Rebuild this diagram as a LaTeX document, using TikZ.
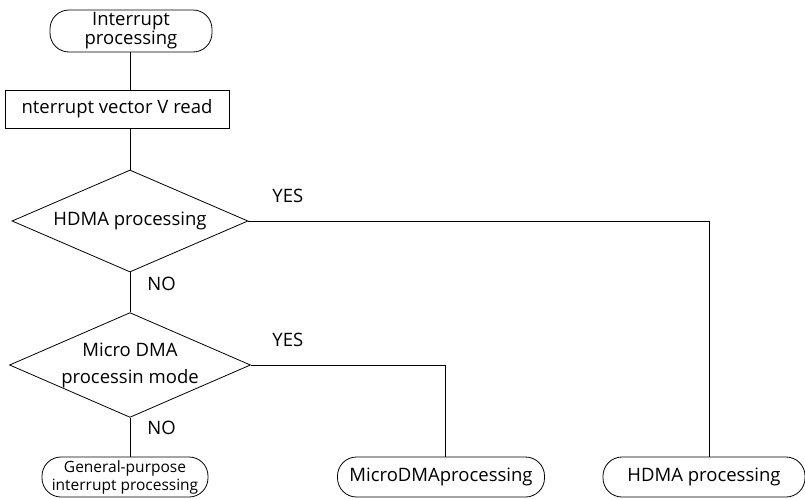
\documentclass[tikz,border=0pt]{standalone}
\usepackage{fontspec}
\setmainfont{Open Sans}
\usetikzlibrary{shapes.geometric}
\begin{document}
\begin{tikzpicture}[x=1pt,y=-1pt,line width=0.8pt,
  every node/.style={font=\fontsize{18.5}{20}\selectfont, inner sep=0pt},
  terminal/.style={draw, rounded corners=19pt, align=center},
  procbox/.style={draw, align=center},
  decision/.style={draw, diamond, aspect=2.3, align=center},
  lbl/.style={anchor=west}]
\useasboundingbox (0,0) rectangle (805,498);
\node[terminal, minimum width=162pt, minimum height=42pt,
      font=\fontsize{18.5}{18}\selectfont] (start) at (131,31) {Interrupt\\processing};
\node[procbox, minimum width=224pt, minimum height=38pt] (vread) at (117,109) {nterrupt vector V read};
\node[decision, minimum width=236pt, minimum height=102pt] (hdma) at (130,221) {HDMA processing};
\node[decision, minimum width=236pt, minimum height=104pt,
      font=\fontsize{18.5}{27}\selectfont] (micro) at (130,365) {Micro DMA\\processin mode};
\node[terminal, minimum width=166pt, minimum height=40pt,
      font=\fontsize{15.5}{18}\selectfont] (gen) at (125,477) {General-purpose\\interrupt processing};
\node[terminal, minimum width=207pt, minimum height=40pt] (mproc) at (441,477) {MicroDMAprocessing};
\node[terminal, minimum width=202pt, minimum height=40pt] (hproc) at (704,477) {HDMA processing};
\coordinate (c1) at (hproc.north -| 709,0);
\coordinate (c2) at (mproc.north -| 445,0);

\draw (start.south -| 130,0) -- (vread.north -| 130,0);
\draw (vread.south -| 130,0) -- (hdma.north);
\draw (hdma.south) -- (micro.north);
\draw (micro.south) -- (gen.north -| micro.south);
\draw (hdma.east) -| (c1);
\draw (micro.east) -| (c2);

\node[lbl] (yes1) at (272,196) {YES};
\node[lbl] (no1) at (147,284) {NO};
\node[lbl] (yes2) at (272,340) {YES};
\node[lbl] (no2) at (147,428) {NO};
\end{tikzpicture}
\end{document}
